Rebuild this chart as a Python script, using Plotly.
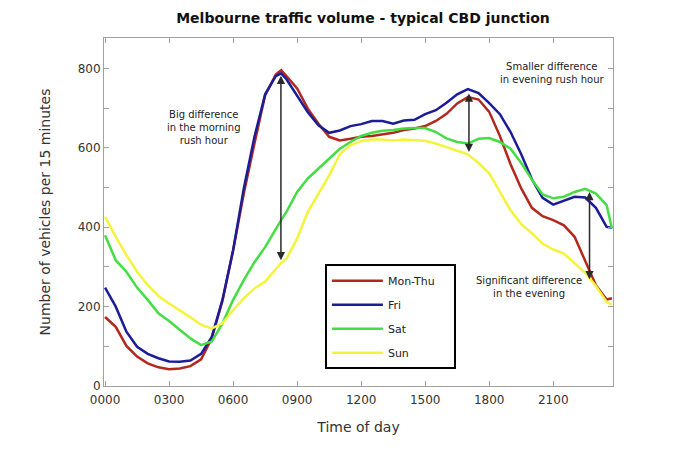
import plotly.graph_objects as go

# time of day in hours (half-hourly readings, plus the morning peak and the last slot)
hours = [0, 0.5, 1, 1.5, 2, 2.5, 3, 3.5, 4, 4.5, 5, 5.5, 6, 6.5, 7, 7.5, 8, 8.25, 8.5,
         9, 9.5, 10, 10.5, 11, 11.5, 12, 12.5, 13, 13.5, 14, 14.5, 15, 15.5, 16, 16.5,
         17, 17.5, 18, 18.5, 19, 19.5, 20, 20.5, 21, 21.5, 22, 22.5, 23, 23.5, 23.75]

mon_thu = [174, 149, 101, 74, 57, 47, 42, 44, 50, 67, 120, 215, 342, 485, 611, 733, 785, 796, 781,
           750, 699, 661, 628, 619, 623, 628, 630, 634, 638, 645, 649, 655, 668, 686, 712,
           728, 722, 691, 630, 559, 498, 449, 428, 418, 405, 376, 313, 254, 218, 221]
fri = [248, 200, 137, 99, 81, 70, 62, 61, 64, 81, 124, 217, 342, 498, 628, 735, 781, 788, 773,
       733, 690, 657, 638, 644, 655, 660, 668, 668, 661, 669, 671, 685, 695, 714, 735,
       748, 738, 713, 685, 640, 584, 521, 474, 457, 468, 477, 475, 449, 401, 399]
sat = [380, 317, 288, 248, 217, 183, 164, 141, 120, 103, 112, 158, 217, 267, 312, 350, 397, 418, 439,
       489, 523, 548, 573, 598, 615, 630, 638, 643, 645, 649, 650, 650, 640, 624, 615,
       611, 623, 625, 615, 598, 562, 520, 483, 473, 477, 489, 497, 485, 456, 397]
sun = [426, 376, 330, 288, 254, 227, 208, 191, 173, 154, 145, 158, 191, 221, 246, 263, 296, 310, 321,
       372, 439, 485, 531, 584, 607, 617, 621, 621, 619, 621, 619, 618, 611, 602, 592,
       584, 562, 536, 489, 443, 408, 385, 359, 344, 334, 310, 285, 252, 212, 205]

tick_hours = [0, 3, 6, 9, 12, 15, 18, 21]
tick_labels = ["0000", "0300", "0600", "0900", "1200", "1500", "1800", "2100"]

# (x, from, to) for the difference arrows
arrows = [(8.24, 313, 782), (17.05, 586, 737), (22.7, 265, 489)]

notes = [
    (4.62, 652, "Big difference<br>in the morning<br>rush hour"),
    (20.95, 788, "Smaller difference<br>in evening rush hour"),
    (19.85, 250, "Significant difference<br>in the evening"),
]

series = [
    ("Mon-Thu", mon_thu, "#b2281e"),
    ("Fri", fri, "#1c1c98"),
    ("Sat", sat, "#44dd44"),
    ("Sun", sun, "#f4f43c"),
]

FONT = "DejaVu Sans"
PAD = "\u00a0" * 4  # widen legend box on the right

fig = go.Figure()
for name, vals, col in series:
    fig.add_trace(go.Scatter(
        x=hours, y=vals, mode="lines", name=name + PAD, legendgroup=name,
        line=dict(color=col, width=2.5),
    ))

for x, y0, y1 in arrows:
    fig.add_annotation(
        x=x, y=y1, ax=x, ay=y0, xref="x", yref="y", axref="x", ayref="y",
        text="", showarrow=True, arrowhead=2, arrowside="end+start",
        arrowsize=1.1, arrowwidth=1.5, arrowcolor="#2a2a2a",
    )

for x, y, txt in notes:
    fig.add_annotation(
        x=x, y=y, xref="x", yref="y", text=txt, showarrow=False,
        font=dict(family=FONT, size=10, color="#222222"),
    )

axis_common = dict(
    showline=True, linecolor="#a0a0a0", linewidth=1, mirror="ticks",
    ticks="inside", ticklen=5, tickcolor="#a0a0a0", showgrid=False, zeroline=False,
    tickfont=dict(family=FONT, size=12, color="#333333"),
)

W, H = 673, 455  # page body has an 8px offset inside the 681x463 window

fig.update_layout(
    width=W, height=H,
    margin=dict(l=96, r=68, t=30, b=77),
    paper_bgcolor="white", plot_bgcolor="white",
    font=dict(family=FONT, color="#333333"),
    title=dict(
        text="<b>Melbourne traffic volume - typical CBD junction</b>",
        x=355 / W, xref="container", y=1 - 10 / H, yref="container",
        xanchor="center", yanchor="middle",
        font=dict(family=FONT, size=14, color="#111111"),
    ),
    xaxis=dict(
        range=[-0.05, 23.8], tickvals=tick_hours, ticktext=tick_labels,
        ticklabelstandoff=3,
        title=dict(text="Time of day", font=dict(family=FONT, size=14, color="#333333"), standoff=15),
        **axis_common,
    ),
    yaxis=dict(
        range=[0, 877], tickvals=[0, 200, 400, 600, 800],
        minor=dict(dtick=100, ticks="inside", ticklen=5, tickcolor="#a0a0a0"),
        title=dict(text="Number of vehicles per 15 minutes",
                   font=dict(family=FONT, size=14, color="#333333"), standoff=23),
        **axis_common,
    ),
    legend=dict(
        x=0.434, y=0.35, xanchor="left", yanchor="top",
        bgcolor="white", bordercolor="black", borderwidth=2,
        font=dict(family=FONT, size=11, color="#222222"),
        itemwidth=51, tracegroupgap=5,
    ),
    showlegend=True,
)

fig.write_html("out.html")
